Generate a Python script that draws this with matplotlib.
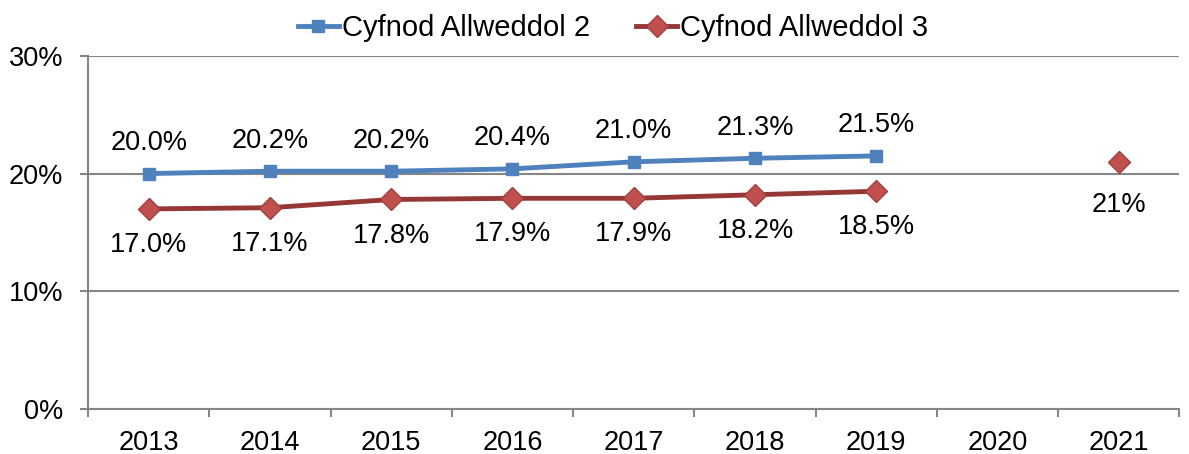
import numpy as np
import matplotlib.pyplot as plt

plt.rcParams['font.family'] = ['Liberation Sans', 'DejaVu Sans']

years = ["2013", "2014", "2015", "2016", "2017", "2018", "2019", "2020", "2021"]
ks2 = [20.0, 20.2, 20.2, 20.4, 21.0, 21.3, 21.5, np.nan, np.nan]
ks3 = [17.0, 17.1, 17.8, 17.9, 17.9, 18.2, 18.5, np.nan, 21.0]
ks3_labels = ["17.0%", "17.1%", "17.8%", "17.9%", "17.9%", "18.2%", "18.5%", "", "21%"]

grey = "#868686"
fs = 19.5
fig = plt.figure(figsize=(11.89, 4.54), dpi=100)
ax = fig.add_axes([0.074, 0.099, 0.918, 0.778])
x = np.arange(len(years))

ax.plot(x, ks2, color="#4F81BD", lw=3.5, marker="s", ms=8,
        mfc="#4F81BD", mec="#4F81BD", label="Cyfnod Allweddol 2", zorder=3)
ax.plot(x, ks3, color="#953735", lw=3.5, marker="D", ms=11,
        mfc="#C0504D", mec="#A0403D", label="Cyfnod Allweddol 3", zorder=3)

for xi, v in zip(x, ks2):
    if not np.isnan(v):
        ax.annotate(f"{v:.1f}%", (xi, v), xytext=(0, 22), textcoords="offset points",
                    ha="center", va="center", fontsize=fs)
for xi, v, lab in zip(x, ks3, ks3_labels):
    if not np.isnan(v):
        off = -31 if lab == "21%" else -26
        ax.annotate(lab, (xi, v), xytext=(0, off), textcoords="offset points",
                    ha="center", va="center", fontsize=fs)

ax.set_xlim(-0.5, len(years) - 0.5)
ax.set_ylim(0, 30)
ax.set_yticks([0, 10, 20, 30])
ax.set_yticklabels(["0%", "10%", "20%", "30%"], fontsize=fs)
ax.set_xticks(x)
ax.set_xticklabels(years, fontsize=fs)
ax.set_xticks(np.arange(-0.5, len(years)), minor=True)
ax.tick_params(axis="x", which="major", length=0, pad=15)
ax.tick_params(axis="x", which="minor", length=6, color=grey, width=1.5)
ax.tick_params(axis="y", length=6, color=grey, width=1.5, pad=12)

ax.grid(axis="y", color=grey, lw=1.5)
ax.set_axisbelow(True)
for s in ["top", "right"]:
    ax.spines[s].set_visible(False)
for s in ["left", "bottom"]:
    ax.spines[s].set_color(grey)
    ax.spines[s].set_linewidth(1.5)

ax.legend(loc="center", bbox_to_anchor=(0.481, 1.078), ncol=2, frameon=False,
          fontsize=21, handlelength=1.4, handletextpad=0.1, columnspacing=1.6,
          borderaxespad=0.0)

fig.savefig("out.png", dpi=100)
